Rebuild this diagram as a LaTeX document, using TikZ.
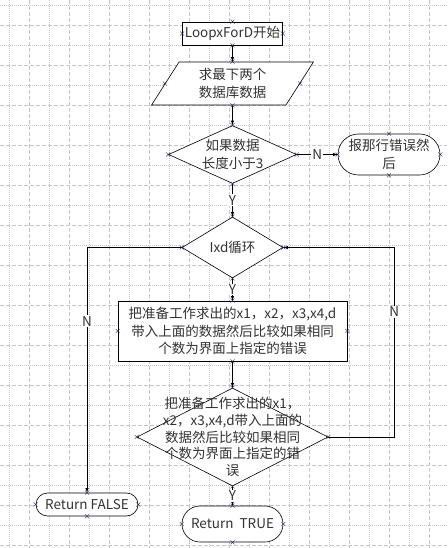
\documentclass[tikz,border=0pt]{standalone}
\usepackage{fontspec}
\setmainfont{Noto Sans CJK SC}
\usetikzlibrary{shapes.geometric,shapes.misc}
\definecolor{cpnavy}{RGB}{30,30,110}

\begin{document}
\begin{tikzpicture}[
  x=1pt, y=-1pt,
  font=\fontsize{13.5}{17.5}\selectfont,
  box/.style={draw, fill=white, text=black!80, align=center, inner sep=0pt, semithick},
  proc/.style={box, rectangle},
  io/.style={box, trapezium, trapezium left angle=60, trapezium right angle=120,
             trapezium stretches=true},
  decide/.style={box, diamond},
  term/.style={box, rounded rectangle},
  dtext/.style={align=center, text=black!80, inner sep=0pt, font=\fontsize{13.5}{16.7}\selectfont},
  arrow/.style={->, >=latex, semithick},
  yn/.style={fill=white, text=black!80, inner sep=1pt},
  gridon/.style={gray!45, line width=0.6pt, dash pattern=on 4pt off 2pt},
  gridoff/.style={gray!45, line width=0.6pt, dash pattern=on 1pt off 1pt},
  cpt/.style={cpnavy, line width=0.4pt}
]
\fill[white] (0,0) rectangle (447,548);
\useasboundingbox (0,0) rectangle (447,548);
% background grid
\foreach \k in {0,...,10} {
  \draw[gridoff] (9+40*\k,0) -- (9+40*\k,548);
  \draw[gridon] (29+40*\k,0) -- (29+40*\k,548);
}
\draw[gridoff] (449,0) -- (449,548);
\foreach \k in {0,...,13} {
  \draw[gridoff] (0,5+40*\k) -- (447,5+40*\k);
  \draw[gridon] (0,25+40*\k) -- (447,25+40*\k);
}

\node[proc, minimum width=100pt, minimum height=23pt] (start) at (232.5, 33.5) {LoopxForD开始};
\node[io, minimum width=162pt, minimum height=43pt] (para) at (232.5, 83.5) {求最下两个\\数据库数据};
\node[decide, aspect=2.2, minimum width=128pt, minimum height=58pt] (ask) at (232.5, 154.5)
  {如果数据\\长度小于3};
\node[term, minimum width=102pt, minimum height=41pt] (err) at (389, 154.5) {报那行错误然\\后};
\node[decide, minimum width=101pt, minimum height=61pt] (loop) at (232.5, 247.5) {Ixd循环};
\node[proc, minimum width=229pt, minimum height=60pt] (work) at (232.5, 331)
  {把准备工作求出的x1，x2，x3,x4,d\\带入上面的数据然后比较如果相同\\个数为界面上指定的错误};
\node[decide, minimum width=191pt, minimum height=98pt] (check) at (232.5, 437) {};
\node[dtext] (checktxt) at (check)
  {把准备工作求出的x1，\\x2，x3,x4,d带入上面的\\数据然后比较如果相同\\个数为界面上指定的错\\误};
\node[term, minimum width=102pt, minimum height=23pt] (false) at (87, 504.5) {Return FALSE};
\node[term, minimum width=101pt, minimum height=36pt] (true) at (232.5, 524) {Return\ \ TRUE};

\draw[arrow] (start) -- (para);
\draw[arrow] (para) -- (ask);
\draw[arrow] (ask) -- node[yn]{N} (err);
\draw[arrow] (ask) -- node[yn]{Y} (loop);
\draw[arrow] (loop) -- node[yn]{Y} (work);
\draw[arrow] (work) -- (check);
\draw[arrow] (check) -- node[yn]{Y} (true);
\draw[arrow] (check.east) -- ++(66,0) |- node[yn, pos=0.33]{N} (loop.east);
\draw[arrow] (loop.west) -| node[yn, pos=0.65]{N} (false.north);

% connection points
\foreach \n in {start,para,ask,err,loop,work,check,false,true}
  \foreach \a in {north,south,east,west}
    \draw[cpt] (\n.\a) +(-2,-2) -- +(2,2) +(-2,2) -- +(2,-2);
\end{tikzpicture}
\end{document}
